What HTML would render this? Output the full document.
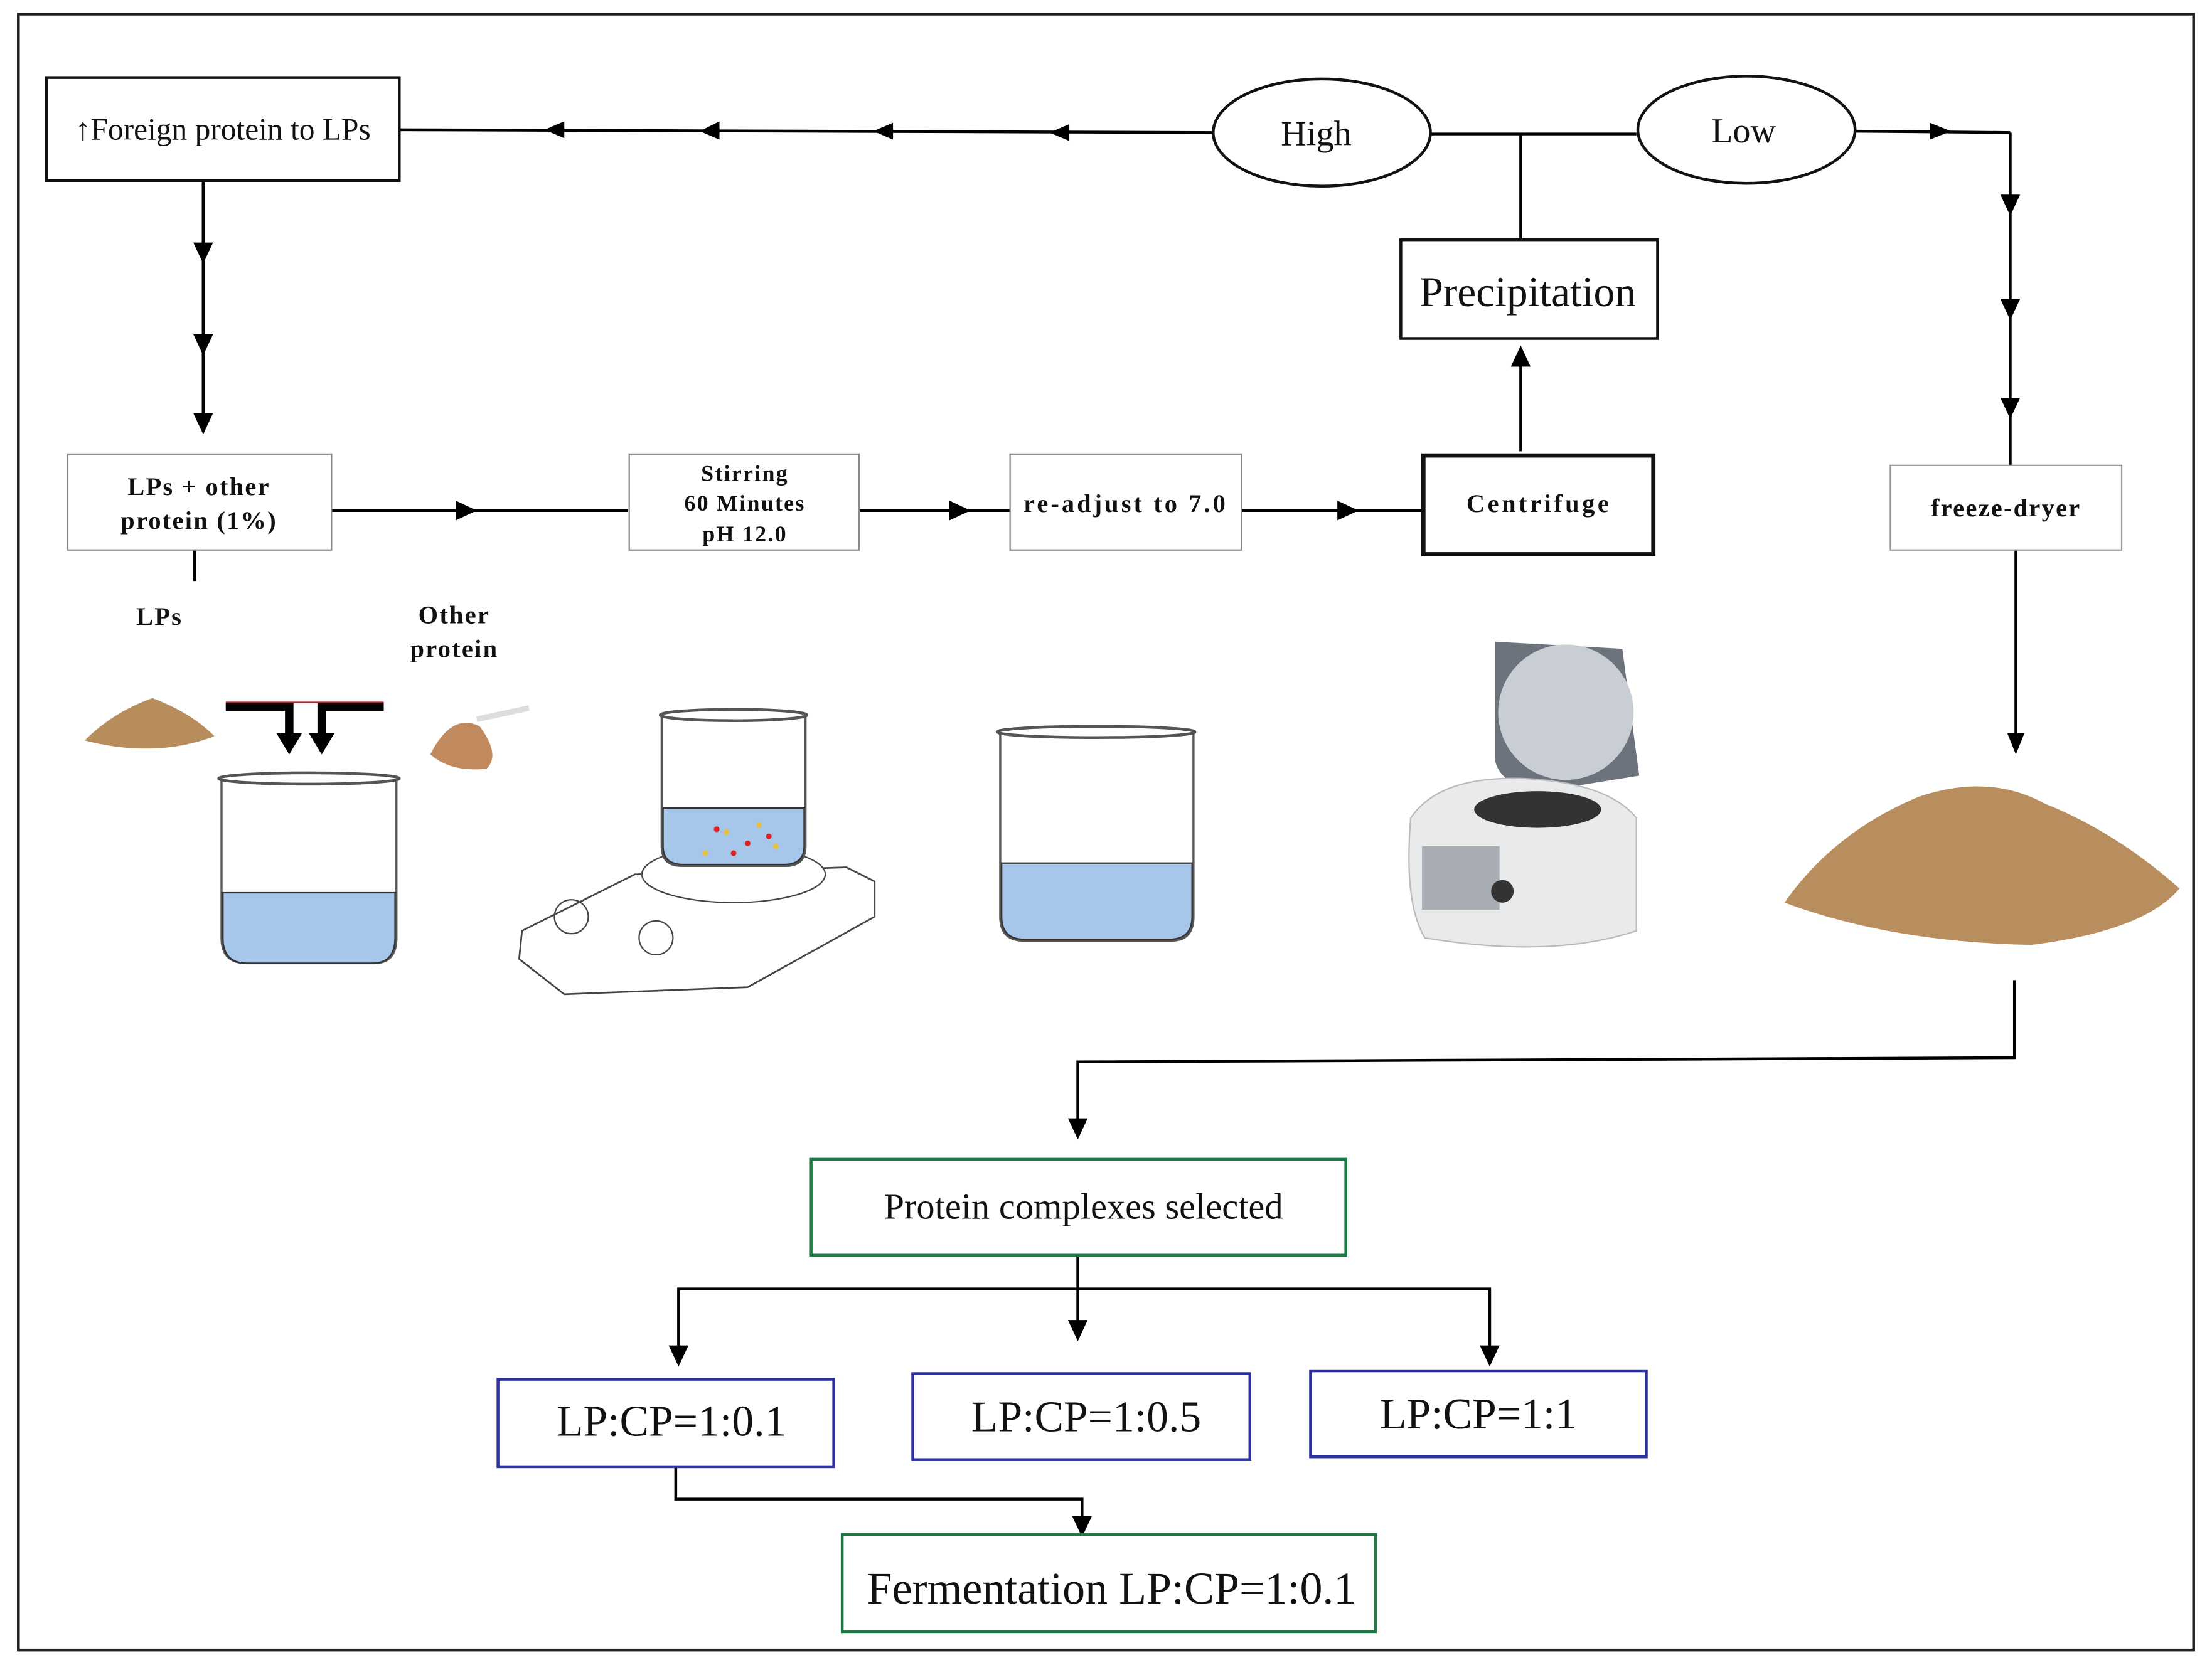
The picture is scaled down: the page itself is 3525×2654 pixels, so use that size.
<!DOCTYPE html>
<html><head><meta charset="utf-8"><style>html,body{margin:0;padding:0;background:#fff}svg{display:block}</style></head><body>
<svg width="3525" height="2654" viewBox="0 0 1568 1180.6" xmlns="http://www.w3.org/2000/svg" font-family="Liberation Serif, serif">
<rect x="0" y="0" width="1568" height="1181" fill="#fff"/>
<rect x="13" y="10" width="1542" height="1160" fill="none" stroke="#222" stroke-width="2"/>
<g stroke="#000" stroke-width="2" fill="none">
<line x1="283" y1="92" x2="860" y2="94"/>
<path d="M400,86 L386,92 L400,98z M510,86 L496,93 L510,99z M633,87 L619,93 L633,99z M758,88 L744,94 L758,100z" fill="#000" stroke="none"/>
<line x1="1014" y1="95" x2="1160" y2="95"/>
<line x1="1078" y1="95" x2="1078" y2="170"/>
<line x1="1078" y1="320" x2="1078" y2="258"/>
<path d="M1071,260 L1078,245 L1085,260z" fill="#000" stroke="none"/>
<line x1="1315" y1="93" x2="1425" y2="94"/>
<path d="M1368,87 L1383,93 L1368,99z" fill="#000" stroke="none"/>
<line x1="1425" y1="94" x2="1425" y2="330"/>
<path d="M1418,138 L1425,153 L1432,138z M1418,212 L1425,227 L1432,212z M1418,282 L1425,297 L1432,282z" fill="#000" stroke="none"/>
<line x1="1429" y1="390" x2="1429" y2="524"/>
<path d="M1423,520 L1429,535 L1435,520z" fill="#000" stroke="none"/>
<line x1="144" y1="128" x2="144" y2="300"/>
<path d="M137,172 L144,187 L151,172z M137,237 L144,252 L151,237z M137,293 L144,308 L151,293z" fill="#000" stroke="none"/>
<line x1="235" y1="362" x2="445" y2="362"/>
<path d="M323,355 L338,362 L323,369z" fill="#000" stroke="none"/>
<line x1="609" y1="362" x2="716" y2="362"/>
<path d="M673,355 L688,362 L673,369z" fill="#000" stroke="none"/>
<line x1="880" y1="362" x2="1009" y2="362"/>
<path d="M948,355 L963,362 L948,369z" fill="#000" stroke="none"/>
<line x1="138" y1="390" x2="138" y2="412"/>
<polyline points="1428,695 1428,750 764,753 764,795"/>
<path d="M757,793 L764,808 L771,793z" fill="#000" stroke="none"/>
<line x1="764" y1="890" x2="764" y2="938"/>
<path d="M757,936 L764,951 L771,936z" fill="#000" stroke="none"/>
<polyline points="481,956 481,914 1056,914 1056,956"/>
<path d="M474,954 L481,969 L488,954z M1049,954 L1056,969 L1063,954z" fill="#000" stroke="none"/>
<polyline points="479,1040 479,1063 767,1063 767,1078"/>
<path d="M760,1075 L767,1090 L774,1075z" fill="#000" stroke="none"/>
</g>
<g fill="#fff" stroke="#111">
<rect x="33" y="55" width="250" height="73" stroke-width="2"/>
<rect x="993" y="170" width="182" height="70" stroke-width="2"/>
<rect x="1340" y="330" width="164" height="60" stroke-width="1" stroke="#999"/>
<rect x="48" y="322" width="187" height="68" stroke-width="1" stroke="#888"/>
<rect x="446" y="322" width="163" height="68" stroke-width="1" stroke="#888"/>
<rect x="716" y="322" width="164" height="68" stroke-width="1" stroke="#888"/>
<rect x="1009" y="323" width="163" height="70" stroke-width="3"/>
<ellipse cx="937" cy="94" rx="77" ry="38" stroke-width="2"/>
<ellipse cx="1238" cy="92" rx="77" ry="38" stroke-width="2"/>
<rect x="575" y="822" width="379" height="68" stroke="#1d7a45" stroke-width="2"/>
<rect x="597" y="1088" width="378" height="69" stroke="#1d7a45" stroke-width="2"/>
<rect x="353" y="978" width="238" height="62" stroke="#2b2e9e" stroke-width="2"/>
<rect x="647" y="974" width="239" height="61" stroke="#2b2e9e" stroke-width="2"/>
<rect x="929" y="972" width="238" height="61" stroke="#2b2e9e" stroke-width="2"/>
</g>
<g fill="#111" text-anchor="middle">
<text x="158" y="99" font-size="22">↑Foreign protein to LPs</text>
<text x="1083" y="217" font-size="30">Precipitation</text>
<text x="933" y="103" font-size="25">High</text>
<text x="1236" y="101" font-size="25">Low</text>
<g font-weight="bold" font-size="18" letter-spacing="1">
<text x="1422" y="366">freeze-dryer</text>
<text x="141" y="351">LPs + other</text>
<text x="141" y="375">protein (1%)</text>
<text x="528" y="341" font-size="16">Stirring</text>
<text x="528" y="362" font-size="16">60 Minutes</text>
<text x="528" y="384" font-size="16">pH 12.0</text>
<text x="798" y="363" letter-spacing="1.8">re-adjust to 7.0</text>
<text x="1091" y="363" letter-spacing="2">Centrifuge</text>
<text x="113" y="443">LPs</text>
<text x="322" y="442">Other</text>
<text x="322" y="466">protein</text>
</g>
<text x="768" y="864" font-size="26">Protein complexes selected</text>
<text x="476" y="1018" font-size="31">LP:CP=1:0.1</text>
<text x="770" y="1015" font-size="31">LP:CP=1:0.5</text>
<text x="1048" y="1013" font-size="31">LP:CP=1:1</text>
<text x="788" y="1137" font-size="32">Fermentation LP:CP=1:0.1</text>
</g>
<path d="M60,525 Q80,505 108,495 Q135,505 152,522 Q110,538 60,525z" fill="#b88d5c"/>
<path d="M160,501 L205,501 L205,525 M272,501 L228,501 L228,525" stroke="#000" stroke-width="6" fill="none"/>
<path d="M160,498 L272,498" stroke="#b22" stroke-width="1"/>
<path d="M196,520 L205,535 L214,520z M219,520 L228,535 L237,520z" fill="#000"/>
<path d="M305,535 Q320,505 340,515 Q355,535 345,545 Q320,548 305,535z" fill="#c08a5e"/>
<line x1="338" y1="510" x2="375" y2="502" stroke="#ddd" stroke-width="4"/>
<path d="M157,553 L157,665 Q157,683 175,683 L265,683 Q281,683 281,665 L281,553" fill="none" stroke="#555" stroke-width="1.5"/>
<path d="M158,633 L280,633 L280,665 Q280,683 264,683 L175,683 Q158,683 158,665z" fill="#a6c6ea" stroke="#333"/>
<ellipse cx="219" cy="552" rx="64" ry="4" fill="none" stroke="#555" stroke-width="2"/>
<path d="M370,660 L450,620 L600,615 L620,625 L620,650 L530,700 L400,705 L368,680z" fill="#fff" stroke="#444" stroke-width="1.2"/>
<ellipse cx="520" cy="620" rx="65" ry="20" fill="#fff" stroke="#444"/>
<circle cx="405" cy="650" r="12" fill="none" stroke="#444"/><circle cx="465" cy="665" r="12" fill="none" stroke="#444"/>
<path d="M469,508 L469,600 Q469,614 483,614 L557,614 Q571,614 571,600 L571,508" fill="#fff" stroke="#555" stroke-width="1.5"/>
<path d="M470,573 L570,573 L570,600 Q570,613 556,613 L484,613 Q470,613 470,600z" fill="#a6c6ea" stroke="#333"/>
<ellipse cx="520" cy="507" rx="52" ry="4" fill="none" stroke="#555" stroke-width="2"/>
<g fill="#d22"><circle cx="508" cy="588" r="2"/><circle cx="530" cy="598" r="2"/><circle cx="545" cy="593" r="2"/><circle cx="520" cy="605" r="2"/></g>
<g fill="#e8c040"><circle cx="515" cy="590" r="2"/><circle cx="538" cy="585" r="2"/><circle cx="550" cy="600" r="2"/><circle cx="500" cy="605" r="2"/></g>
<path d="M709,520 L709,650 Q709,667 726,667 L830,667 Q846,667 846,650 L846,520" fill="none" stroke="#555" stroke-width="1.5"/>
<path d="M710,612 L845,612 L845,650 Q845,666 829,666 L726,666 Q710,666 710,650z" fill="#a6c6ea" stroke="#333"/>
<ellipse cx="777" cy="519" rx="70" ry="4" fill="none" stroke="#555" stroke-width="2"/>
<path d="M1060,455 L1150,460 L1162,550 L1100,560 Q1065,560 1060,540z" fill="#6d737c"/>
<ellipse cx="1110" cy="505" rx="48" ry="48" fill="#c9ced4"/>
<path d="M1000,580 Q1020,550 1080,552 Q1140,555 1160,580 L1160,660 Q1100,680 1010,665 Q995,640 1000,580z" fill="#e8eaec" stroke="#bbb"/>
<ellipse cx="1090" cy="574" rx="45" ry="13" fill="#333"/>
<rect x="1008" y="600" width="55" height="45" fill="#a8adb3"/>
<circle cx="1065" cy="632" r="8" fill="#333"/>
<path d="M1265,640 Q1300,590 1360,565 Q1410,548 1450,570 Q1500,590 1545,630 Q1520,660 1440,670 Q1340,668 1265,640z" fill="#b98e5e"/>
</svg>
</body></html>
